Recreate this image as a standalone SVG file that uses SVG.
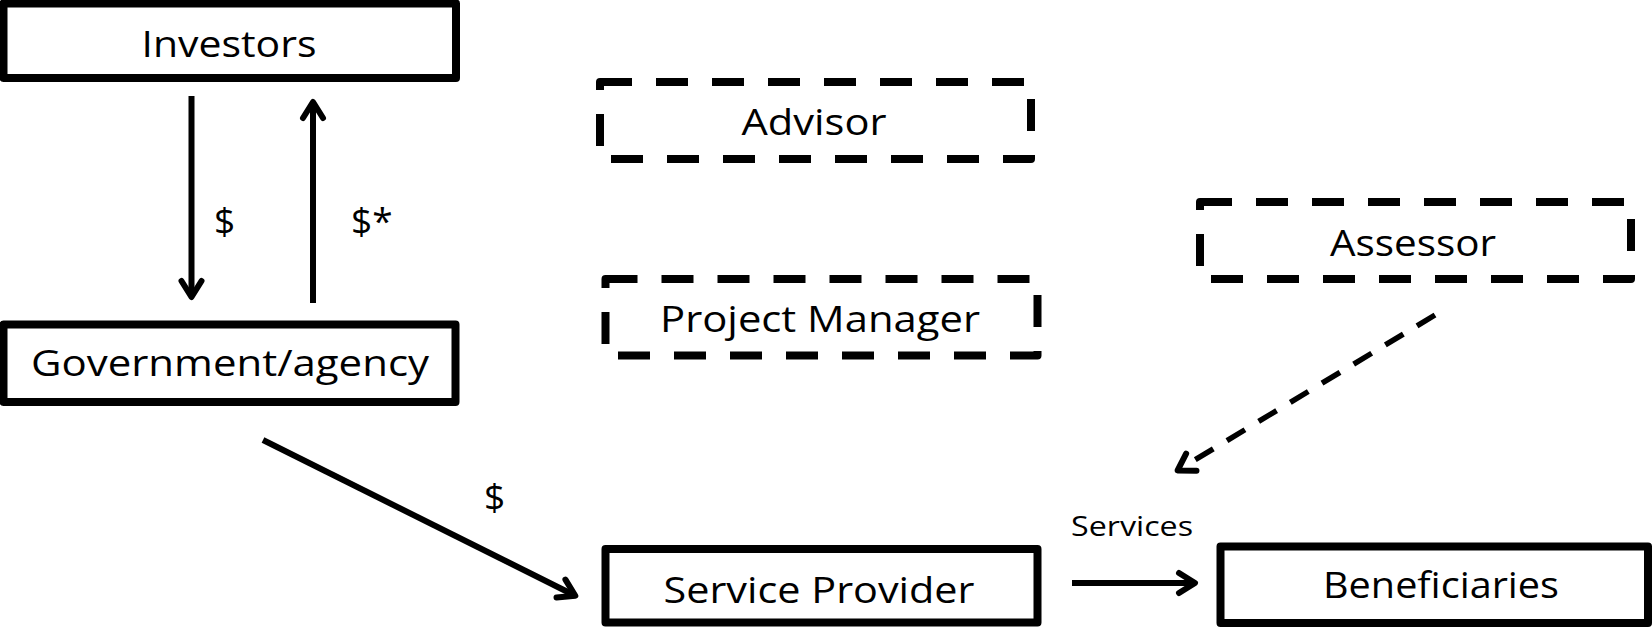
<svg xmlns="http://www.w3.org/2000/svg" width="1652" height="628" viewBox="0 0 1652 628">
<style>
  .box{fill:#fff;stroke:#000;stroke-width:8;stroke-linejoin:round}
  .dbox{fill:#fff;stroke:#000;stroke-width:8;stroke-dasharray:32 24;stroke-linejoin:round}
  .lbl{font-family:"Open Sans","Liberation Sans",sans-serif;font-size:37px;fill:#000}
  .small{font-family:"Open Sans","Liberation Sans",sans-serif;font-size:28px;fill:#000}
  .conn{stroke:#000;stroke-width:6;fill:none}
  .dconn{stroke:#000;stroke-width:5.5;fill:none;stroke-dasharray:21 16}
</style>
<defs>
  <marker id="arr" markerUnits="userSpaceOnUse" markerWidth="40" markerHeight="40" viewBox="-20 -20 40 40" refX="0" refY="0" orient="auto">
    <path d="M-16,-10 L0,0 L-16,10" fill="none" stroke="#000" stroke-width="6" stroke-linecap="round" stroke-linejoin="round"/>
  </marker>
</defs>
<g id="investors">
  <rect class="box" x="3.5" y="3.5" width="452.5" height="74.5"/>
  <text class="lbl" x="229" y="57" text-anchor="middle" textLength="175" lengthAdjust="spacingAndGlyphs">Investors</text>
</g>
<g id="government">
  <rect class="box" x="3.5" y="324.5" width="452" height="77.5"/>
  <text class="lbl" x="230" y="376" text-anchor="middle" textLength="398" lengthAdjust="spacingAndGlyphs">Government/agency</text>
</g>
<g id="advisor">
  <rect class="dbox" x="600" y="82" width="431" height="77"/>
  <text class="lbl" x="814" y="135" text-anchor="middle" textLength="145" lengthAdjust="spacingAndGlyphs">Advisor</text>
</g>
<g id="project-manager">
  <rect class="dbox" x="605.5" y="279" width="432" height="76.5"/>
  <text class="lbl" x="820" y="332" text-anchor="middle" textLength="320" lengthAdjust="spacingAndGlyphs">Project Manager</text>
</g>
<g id="assessor">
  <rect class="dbox" x="1200" y="202" width="431" height="77"/>
  <text class="lbl" x="1413" y="256" text-anchor="middle" textLength="166" lengthAdjust="spacingAndGlyphs">Assessor</text>
</g>
<g id="service-provider">
  <rect class="box" x="605.5" y="549" width="432" height="73.5"/>
  <text class="lbl" x="819" y="603" text-anchor="middle" textLength="311" lengthAdjust="spacingAndGlyphs">Service Provider</text>
</g>
<g id="beneficiaries">
  <rect class="box" x="1220.5" y="546.5" width="427.5" height="76.5"/>
  <text class="lbl" x="1441" y="598" text-anchor="middle" textLength="236" lengthAdjust="spacingAndGlyphs">Beneficiaries</text>
</g>
<g id="connectors">
  <line class="conn" x1="191.5" y1="96" x2="191.5" y2="297" marker-end="url(#arr)"/>
  <line class="conn" x1="313" y1="303" x2="313" y2="102" marker-end="url(#arr)"/>
  <line class="conn" x1="263" y1="440" x2="575.3" y2="595.7" marker-end="url(#arr)"/>
  <line class="conn" x1="1072" y1="583" x2="1195" y2="583" marker-end="url(#arr)"/>
  <line class="dconn" x1="1435" y1="315" x2="1177.6" y2="470.4" marker-end="url(#arr)"/>
  <text class="lbl" x="214" y="234">$</text>
  <text class="lbl" x="351" y="234">$*</text>
  <text class="lbl" x="484" y="510">$</text>
  <text class="small" x="1071" y="536" textLength="122" lengthAdjust="spacingAndGlyphs">Services</text>
</g>
</svg>
